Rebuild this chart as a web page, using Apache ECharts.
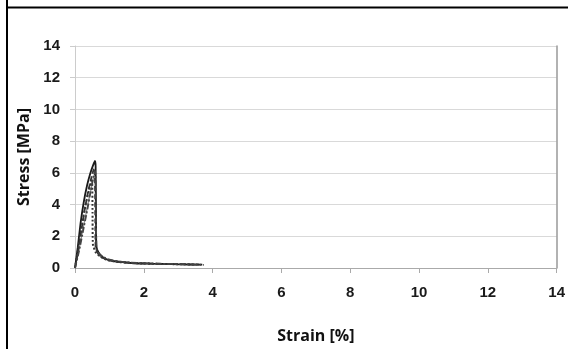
<!DOCTYPE html>
<html><head><meta charset="utf-8">
<script src="https://cdn.jsdelivr.net/npm/echarts@6/dist/echarts.min.js"></script>
<style>html,body{margin:0;padding:0;background:#fff}#c{width:568px;height:349px}</style>
</head><body><div id="c"></div>
<script>
var xTicks = [0, 2, 4, 6, 8, 10, 12, 14];
var yTicks = [0, 2, 4, 6, 8, 10, 12, 14];
var specimen1 = [[0,0],[0.08,1.3],[0.16,2.8],[0.25,4.1],[0.35,5.2],[0.45,6.0],[0.53,6.5],[0.58,6.75],[0.6,6.4],[0.61,3.5],[0.62,1.4],[0.68,1.0],[0.8,0.7],[1.0,0.48],[1.3,0.38],[1.7,0.3],[2.2,0.27],[2.8,0.24],[3.3,0.22],[3.7,0.21]];
var specimen2 = [[0,0],[0.1,1.2],[0.2,2.6],[0.3,3.9],[0.4,5.0],[0.5,5.9],[0.56,6.3],[0.58,6.0],[0.59,3.0],[0.6,1.3],[0.66,0.95],[0.8,0.65],[1.0,0.5],[1.4,0.36],[1.9,0.3],[2.5,0.26],[3.0,0.24],[3.6,0.22]];
var specimen3 = [[0,0],[0.1,1.3],[0.2,2.7],[0.3,3.9],[0.4,4.9],[0.48,5.5],[0.5,5.4],[0.51,3.5],[0.52,1.5],[0.6,1.0],[0.75,0.7],[0.95,0.5],[1.3,0.37],[1.8,0.3],[2.4,0.26],[3.0,0.24],[3.5,0.22]];
var specimen4 = [[0,0],[0.12,1.1],[0.24,2.4],[0.36,3.7],[0.46,4.9],[0.54,5.8],[0.58,6.1],[0.6,5.8],[0.61,3.0],[0.63,1.2],[0.72,0.85],[0.9,0.6],[1.15,0.45],[1.6,0.34],[2.1,0.29],[2.7,0.26],[3.2,0.24],[3.75,0.2]];
var specimen5 = [[0,0],[0.1,1.0],[0.2,2.1],[0.3,3.2],[0.4,4.3],[0.5,5.3],[0.57,6.0],[0.59,5.7],[0.6,2.5],[0.61,1.2],[0.7,0.8],[0.9,0.55],[1.2,0.42],[1.7,0.32],[2.3,0.27],[3.0,0.23],[3.6,0.21]];

var chart = echarts.init(document.getElementById('c'), null, {renderer:'canvas'});
var tickFont = {fontFamily:'"Liberation Sans", Arial, sans-serif', fontSize:15, fontWeight:'bold', color:'#1a1a1a'};
var titleFont = {fontFamily:'"Open Sans", "Noto Sans", sans-serif', fontSize:16, fontWeight:'bold', color:'#111'};
function line(data, color, type, width){
  return {type:'line', data:data, showSymbol:false, symbol:'none', smooth:0.15,
    lineStyle:{color:color, width:width, type:type}, z:3};
}
chart.setOption({
  animation:false,
  backgroundColor:'#fff',
  grid:{left:75, right:11, top:46, bottom:77, containLabel:false},
  xAxis:{type:'value', min:0, max:14, interval:2,
    name:'Strain [%]', nameLocation:'middle', nameGap:60,
    nameTextStyle:titleFont,
    axisLine:{show:true, onZero:false, lineStyle:{color:'#aaa', width:1}},
    axisTick:{show:true, length:5, lineStyle:{color:'#aaa'}},
    axisLabel:Object.assign({margin:17}, tickFont),
    splitLine:{show:false}},
  yAxis:[{type:'value', min:0, max:14, interval:2,
    name:'Stress [MPa]', nameLocation:'middle', nameGap:37,
    nameTextStyle:titleFont,
    axisLine:{show:true, lineStyle:{color:'#ccc', width:1}},
    axisTick:{show:true, length:5, lineStyle:{color:'#ccc'}},
    axisLabel:Object.assign({margin:15}, tickFont),
    splitLine:{show:true, lineStyle:{color:'#d9d9d9', width:1}}},
   {type:'value', min:0, max:14, interval:2, position:'right',
    axisLine:{show:true, lineStyle:{color:'#999', width:1.5}},
    axisTick:{show:false}, axisLabel:{show:false}, splitLine:{show:false}}],
  graphic:[
    {type:'line', shape:{x1:7, y1:0, x2:7, y2:349}, style:{stroke:'#000', lineWidth:2}, z:10},
    {type:'line', shape:{x1:6, y1:7.5, x2:568, y2:7.5}, style:{stroke:'#000', lineWidth:2}, z:10}
  ],
  series:[
    line(specimen5, '#888', 'solid', 1.2),
    line(specimen1, '#1a1a1a', 'solid', 1.8),
    line(specimen2, '#333', [5,3], 1.8),
    line(specimen3, '#333', [2,2], 2),
    line(specimen4, '#444', [6,2,2,2], 1.8)
  ]
});
</script></body></html>
